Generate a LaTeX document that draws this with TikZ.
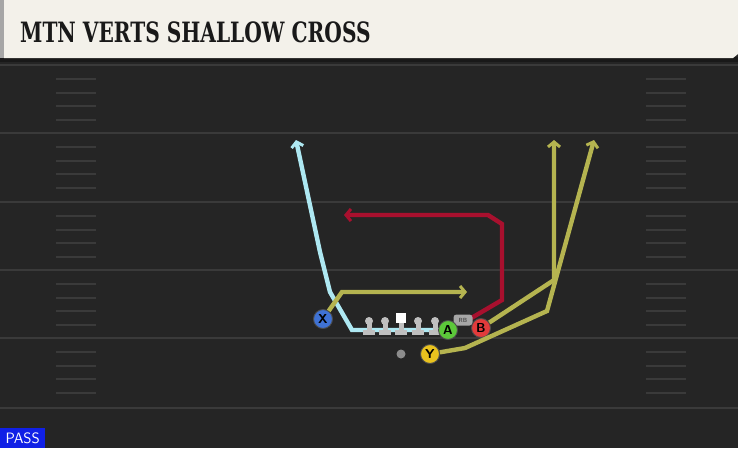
\documentclass[tikz,border=0pt]{standalone}
\usepackage{xcolor}
\usepackage{fontspec}
\usepackage{tikz}
\usetikzlibrary{positioning}
\usetikzlibrary{arrows.meta}
\newfontfamily\titlefont{DejaVu Serif Condensed}
\definecolor{field}{HTML}{252525}
\definecolor{yardline}{HTML}{3A3A3A}
\definecolor{cream}{HTML}{F3F1EA}
\definecolor{cyanroute}{HTML}{AEE8F2}
\definecolor{olive}{HTML}{B5B450}
\definecolor{crimson}{HTML}{A8102E}
\definecolor{xblue}{HTML}{3F72D4}
\definecolor{agreen}{HTML}{5CC83A}
\definecolor{bred}{HTML}{E23B3B}
\definecolor{yyellow}{HTML}{E9C21E}
\tikzset{route/.style = {line width=4.4pt, line join=miter, -{Straight Barb[length=5pt,width=12pt,line width=3pt]}}}

\begin{document}
\begin{tikzpicture}[x=1pt,y=-1pt,
  player/.style={circle,draw=black!70,line width=0.9pt,inner sep=0pt,minimum size=19pt,font=\sffamily\bfseries\fontsize{13}{13}\selectfont},
  hash/.style={yardline,line width=1.6pt}]
  \useasboundingbox (0,0) rectangle (738,448);
  \fill[field] (0,0) rectangle (738,448);

  % yard lines and hashes
  \foreach \y in {65,133,202,270,338,408}
    \draw[yardline,line width=2pt] (0,\y) -- (738,\y);
  \foreach \y in {65,133,202,270,338} {
    \foreach \d in {14,28,41,55} {
      \draw[hash] (56,\y+\d) -- (96,\y+\d);
      \draw[hash] (646,\y+\d) -- (686,\y+\d);
    }
  }

  % header
  \fill[black!90] (0,57) rectangle (738,62);
  \fill[cream] (4,0) -- (738,0) -- (738,54) -- (733,58) -- (4,58) -- cycle;
  \fill[black!35] (0,0) rectangle (4,58);
  \node[anchor=base west,inner sep=0pt,font=\titlefont\bfseries\fontsize{28}{28}\selectfont,text=black!90] (title) at (20,42) {\scalebox{0.8}[1]{MTN VERTS SHALLOW CROSS}};

  % routes
  \coordinate (a0) at (440,330);
  \coordinate (a1) at (352,330);
  \coordinate (a2) at (330,292);
  \coordinate (a3) at (320,252);
  \coordinate (a4) at (296,140);
  \draw[route,cyanroute] (a0) -- (a1) -- (a2) -- (a3) -- (a4);

  \coordinate (x1) at (342,292);
  \coordinate (x2) at (467,292);
  \coordinate (rb0) at (468,320);
  \coordinate (r1) at (502,300);
  \coordinate (r2) at (502,224);
  \coordinate (r3) at (488,215);
  \coordinate (r4) at (344,215);
  \coordinate (b1) at (554,280);
  \coordinate (b2) at (554,140);
  \coordinate (y1) at (465,348);
  \coordinate (y2) at (547,311);
  \coordinate (y3) at (594,140);

  % line
  \foreach \x in {369,385,418,435} {
    \fill[black!25] (\x,321) circle (4);
    \fill[black!25] (\x-2.5,324) rectangle (\x+2.5,331);
    \fill[black!25] (\x-6,330) rectangle (\x+6,335);
  }
  \fill[white] (396,313) rectangle (406,323);
  \fill[black!25] (398.5,323) rectangle (403.5,331);
  \fill[black!25] (395,330) rectangle (407,335);
  \node[circle,fill=black!45,minimum size=9pt,inner sep=0pt] (qb) at (401,354) {};

  \draw[route,crimson] (rb0) -- (r1) -- (r2) -- (r3) -- (r4);
  \node[fill=black!35,rounded corners=3pt,inner sep=1pt,minimum width=19pt,minimum height=11pt,font=\sffamily\bfseries\fontsize{6}{6}\selectfont,text=black!70] (rb) at (463,320) {RB};
  \node[player,fill=xblue] (X) at (323,319) {X};
  \draw[route,olive] (X) -- (x1) -- (x2);
  \node[player,fill=bred] (B) at (481,328) {B};
  \draw[route,olive] (B) -- (b1) -- (b2);
  \node[player,fill=yyellow] (Y) at (430,354) {Y};
  \draw[route,olive] (Y) -- (y1) -- (y2) -- (y3);
  \node[player,fill=agreen] (A) at (448,330) {A};

  % play type
  \node[fill={rgb,255:red,16;green,32;blue,230},text=white,font=\sffamily\fontsize{15}{15}\selectfont,anchor=south west,inner sep=1pt,minimum width=45pt,minimum height=20pt] (pass) at (0,448) {PASS};
\end{tikzpicture}
\end{document}
